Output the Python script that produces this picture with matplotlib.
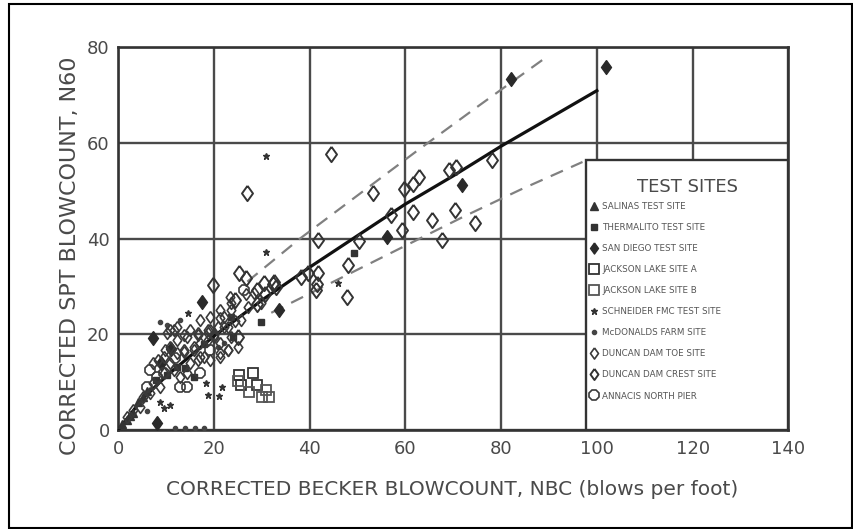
import matplotlib
matplotlib.use('agg')
import matplotlib.pyplot as plt
from matplotlib.patches import Rectangle
from matplotlib.lines import Line2D

plt.rcParams['font.family'] = ['DejaVu Sans']

# best-fit curve and bounds
fit_x = [0, 5, 10, 20, 30, 40, 50, 60, 70, 80, 90, 100]
fit_y = [0, 6.4, 11.2, 19.6, 27.1, 34.0, 40.6, 47.2, 53.1, 59.3, 65.1, 70.9]
upper_x = [27, 38, 50, 62, 75, 90]
upper_y = [31, 40, 49, 58, 67.5, 78.3]
lower_x = [32, 48, 60, 72, 84, 97]
lower_y = [24.5, 32.5, 38.5, 44.5, 50.2, 56.0]

# test sites
site_a_x = [1.9, 3.2, 2.6, 4.2, 5.3, 6.1, 0.9]
site_a_y = [2.1, 3.5, 3.0, 5.8, 6.9, 8.2, 1.2]
thermalito_x = [49.2, 29.8, 23.5, 12.4, 10.3, 15.8, 14.0, 24.0, 8.0, 18.0]
thermalito_y = [37.0, 22.5, 23.6, 13.2, 11.5, 11.1, 13.0, 19.5, 10.5, 18.0]
san_diego_x = [101.9, 82.1, 71.8, 56.1, 33.6, 17.5, 7.4, 8.2, 11.0, 9.0]
san_diego_y = [75.8, 73.3, 51.1, 40.3, 25.0, 26.7, 19.2, 1.5, 17.0, 14.0]
jackson_a_x = [25.2, 28.2, 25.6, 29.0]
jackson_a_y = [11.5, 11.9, 9.4, 9.4]
jackson_b_x = [27.3, 30.0, 31.5, 31.0, 25.0]
jackson_b_y = [7.9, 6.9, 6.9, 8.4, 10.2]
schneider_x = [30.9, 31.0, 46.0, 18.3, 21.8, 18.7, 21.0, 10.9, 9.5, 8.8, 14.7]
schneider_y = [57.3, 37.2, 30.7, 9.8, 9.0, 7.3, 7.1, 5.2, 4.6, 5.8, 24.4]
mcdonald_x = [12, 14, 16, 18, 13, 10.3, 8.8, 20.8, 22.1, 6.0]
mcdonald_y = [0.4, 0.5, 0.4, 0.5, 23.0, 21.9, 22.5, 17.3, 18.2, 4.0]
toe_x = [23.3, 26.7, 28.4, 29.8, 27.1, 25.6, 24.4, 23.5, 21.4, 22.1, 20.0, 21.4,
         18.7, 23.5, 25.0, 22.9, 21.4, 19.3, 17.2, 15.8, 13.7, 10.3, 11.6, 13.7,
         15.1, 16.6, 18.7, 20.0, 22.9, 20.8, 19.3, 16.6, 14.5, 12.4, 10.9, 12.4,
         13.7, 15.8, 17.2, 18.7, 22.9, 21.4, 17.9, 16.6, 15.1, 14.5, 13.0, 11.6,
         10.9, 9.9, 9.5, 8.4, 7.4, 9.5, 8.8, 7.4, 6.7, 5.3, 4.6, 3.2, 1.9, 22.1,
         23.5, 21.4, 19.3, 17.2, 12.4, 10.9]
toe_y = [27.8, 28.4, 28.6, 26.5, 25.7, 23.0, 22.8, 25.0, 23.4, 21.5, 19.4, 18.2,
         20.9, 19.4, 17.3, 16.7, 15.2, 14.6, 15.2, 16.7, 16.3, 20.2, 20.9, 19.8,
         20.9, 19.8, 20.2, 19.8, 21.5, 21.5, 20.9, 20.2, 19.4, 18.8, 17.3, 16.1,
         16.7, 17.3, 18.2, 18.8, 16.7, 16.1, 15.2, 14.6, 14.0, 11.9, 11.1, 12.5,
         14.0, 16.7, 15.2, 14.6, 14.0, 11.9, 9.0, 9.8, 7.7, 6.9, 4.8, 4.2, 2.7, 23.6,
         26.5, 25.0, 23.6, 23.0, 21.5, 20.9]
crest_x = [44.5, 26.9, 53.3, 59.8, 61.5, 62.8, 69.1, 70.6, 78.2, 61.7, 65.5, 70.4,
           74.6, 57.1, 67.6, 59.2, 50.4, 41.8, 48.1, 41.8, 47.9, 41.6, 41.4, 25.2,
           26.7, 19.8, 38.2, 39.7, 25.0, 24.4, 29.0, 32.4, 33.0, 30.7, 29.0, 30.5,
           32.6]
crest_y = [57.6, 49.5, 49.5, 50.3, 51.5, 52.8, 54.3, 55.0, 56.4, 45.5, 43.8, 45.9,
           43.2, 44.9, 39.7, 41.8, 39.5, 39.7, 34.4, 32.8, 27.8, 30.5, 29.2, 32.8,
           31.7, 30.2, 32.0, 32.8, 19.4, 27.1, 29.2, 30.5, 29.9, 28.4, 26.3, 30.7,
           30.9]
annacis_x = [13.0, 14.5, 6.7, 8.2, 9.5, 17.2, 19.3, 26.3, 6.1, 12.0]
annacis_y = [9.0, 9.0, 12.5, 11.1, 11.9, 11.9, 16.7, 29.2, 9.0, 15.0]

site_labels = ['SALINAS TEST SITE', 'THERMALITO TEST SITE', 'SAN DIEGO TEST SITE',
               'JACKSON LAKE SITE A', 'JACKSON LAKE SITE B', 'SCHNEIDER FMC TEST SITE',
               'McDONALDS FARM SITE', 'DUNCAN DAM TOE SITE', 'DUNCAN DAM CREST SITE',
               'ANNACIS NORTH PIER']

ink = '#333333'
gray_txt = '#4a4a4a'
# tall diamond like the hand-drawn symbols
rhomb = [(0, 1), (0.72, 0), (0, -1), (-0.72, 0), (0, 1)]

fig = plt.figure(figsize=(8.54, 5.29), dpi=100)
ax = fig.add_axes([0.1382, 0.187, 0.785, 0.724])

ax.plot(fit_x, fit_y, color='#111111', lw=2.3, zorder=4)
ax.plot(upper_x, upper_y, color='#808080', lw=1.6, dashes=(6, 4), zorder=4)
ax.plot(lower_x, lower_y, color='#808080', lw=1.6, dashes=(6, 4), zorder=4)

sites = [
    (site_a_x, site_a_y, dict(marker='^', ms=6, mfc=ink, mec=ink)),
    (thermalito_x, thermalito_y, dict(marker='s', ms=5, mfc=ink, mec=ink)),
    (san_diego_x, san_diego_y, dict(marker=rhomb, ms=10, mfc='#2a2a2a', mec='#2a2a2a')),
    (jackson_a_x, jackson_a_y, dict(marker='s', ms=7, mfc='none', mec=ink, mew=1.3)),
    (jackson_b_x, jackson_b_y, dict(marker='s', ms=6.5, mfc='none', mec='#555555', mew=1.3)),
    (schneider_x, schneider_y, dict(marker='*', ms=5, mfc=ink, mec=ink)),
    (mcdonald_x, mcdonald_y, dict(marker='o', ms=3, mfc='#444444', mec='#444444')),
    (toe_x, toe_y, dict(marker=rhomb, ms=8.5, mfc='none', mec='#3a3a3a', mew=1.2)),
    (crest_x, crest_y, dict(marker=rhomb, ms=11, mfc='none', mec=ink, mew=1.4)),
    (annacis_x, annacis_y, dict(marker='8', ms=7.5, mfc='none', mec='#3a3a3a', mew=1.2)),
]
handles = []
for (xs, ys, st), lab in zip(sites, site_labels):
    ax.plot(xs, ys, ls='none', zorder=5, **st)
    hs = dict(st)
    hs['ms'] = min(st['ms'], 8)
    handles.append(Line2D([], [], ls='none', label=lab, **hs))

ax.set_xlim(0, 140)
ax.set_ylim(0, 80)
ax.set_xticks(range(0, 141, 20))
ax.set_yticks(range(0, 81, 20))
ax.grid(True, color='#4a4a4a', lw=1.7)
ax.set_axisbelow(True)
for s in ax.spines.values():
    s.set_color(ink)
    s.set_linewidth(1.9)
ax.tick_params(length=0, labelsize=13, colors=gray_txt)
ax.tick_params(axis='y', pad=6)
ax.tick_params(axis='x', pad=7)

ax.set_xlabel('CORRECTED BECKER BLOWCOUNT, NBC (blows per foot)', fontsize=14.5,
              color=gray_txt)
ax.xaxis.set_label_coords(0.498, -0.13)
ax.set_ylabel('CORRECTED SPT BLOWCOUNT, N60', fontsize=16, color=gray_txt)
ax.yaxis.set_label_coords(-0.057, 0.455)

# legend panel
ax.add_patch(Rectangle((0.698, 0), 0.302, 0.705, transform=ax.transAxes,
                       facecolor='white', edgecolor=ink, lw=1.7, zorder=6))
ax.text(0.849, 0.634, 'TEST SITES', transform=ax.transAxes, ha='center', va='center',
        fontsize=13, color=gray_txt, zorder=8)
leg = ax.legend(handles=handles, loc='upper left', bbox_to_anchor=(0.700, 0.605),
                frameon=False, fontsize=6.3, labelspacing=1.38, handlelength=0.8,
                handletextpad=0.5, borderaxespad=0)
leg.set_zorder(7)
plt.setp(leg.get_texts(), color='#555555')

# outer frame
fig.add_artist(Rectangle((0.011, 0.002), 0.987, 0.99, transform=fig.transFigure,
                         fill=False, edgecolor='black', lw=1.5))

plt.savefig('out.png', dpi=100)
plt.close()
